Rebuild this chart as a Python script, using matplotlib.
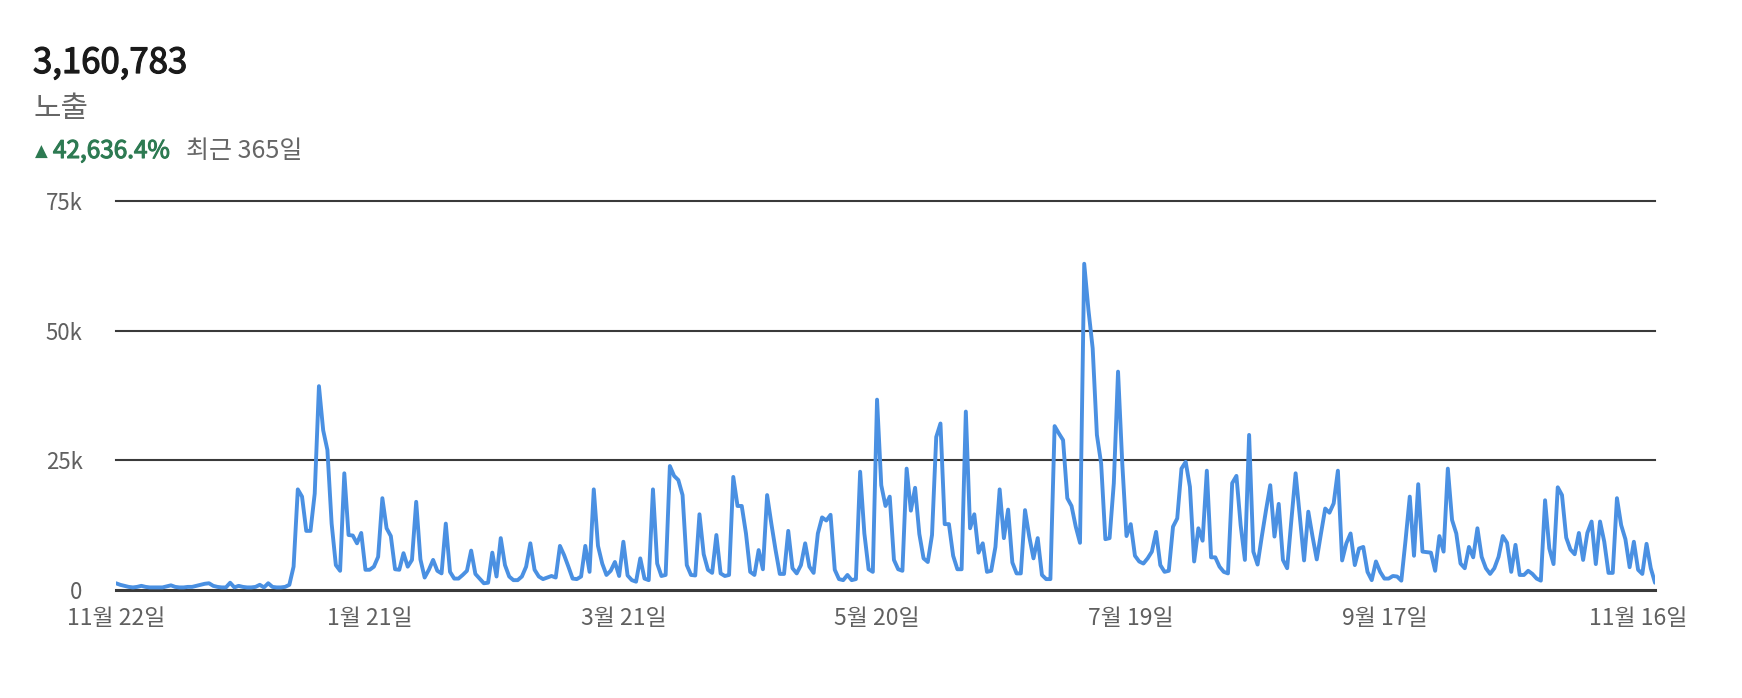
import matplotlib
matplotlib.use("Agg")
import matplotlib.pyplot as plt
import matplotlib.patheffects as pe
import numpy as np

plt.rcParams['font.family'] = ['Noto Sans CJK KR', 'DejaVu Sans']

total_label = "3,160,783"
metric_label = "노출"
change_label = "42,636.4%"
period_label = "최근 365일"

# daily impressions (thousands), 365 days starting 11월 22일
impressions_k = [
    1.3, 1.0, 0.8, 0.6, 0.5, 0.6, 0.8, 0.6, 0.5, 0.5,
    0.5, 0.5, 0.7, 0.9, 0.6, 0.5, 0.5, 0.6, 0.6, 0.8,
    1.0, 1.2, 1.3, 0.8, 0.6, 0.5, 0.5, 1.4, 0.5, 0.8,
    0.6, 0.5, 0.5, 0.6, 1.0, 0.5, 1.3, 0.6, 0.5, 0.5,
    0.6, 1.0,
    4.5, 19.4, 18.0, 11.4, 11.4, 18.6, 39.3, 30.8, 27.0, 12.8,
    4.8, 3.7, 22.5, 10.6, 10.5, 9.0, 11.0, 3.9,
    3.9, 4.5, 6.4, 17.7, 11.9, 10.4, 4.0, 3.9, 7.1, 4.5,
    5.8, 17.0, 5.9, 2.4, 3.9, 5.8, 3.7, 3.2, 12.8, 3.5,
    2.2, 2.2, 2.9, 3.7, 7.6, 3.1, 2.2, 1.3, 1.4, 7.2,
    2.6, 10.0, 4.8, 2.6, 1.9, 1.9, 2.6, 4.5, 9.0, 3.9,
    2.6, 2.1, 2.4, 2.7, 2.4, 8.5, 6.7, 4.5, 2.2, 2.1,
    2.6, 8.5, 3.5, 19.4, 8.5, 5.1, 2.9, 3.7, 5.4, 2.7,
    9.3, 2.8, 1.9, 1.6, 6.1, 2.2, 1.9, 19.4, 5.1, 2.7,
    2.9, 23.9, 22.0, 21.2, 18.3, 4.8, 2.9, 2.8, 14.6, 6.9,
    3.9, 3.3, 10.6, 3.2, 2.7, 2.9, 21.8, 16.2, 16.2, 10.9,
    3.5, 2.9, 7.7, 4.0, 18.3, 12.8, 7.7, 3.1, 3.1, 11.4,
    4.2, 3.2, 4.8, 9.0, 4.5, 3.3, 10.9, 14.0, 13.4, 14.5,
    3.9, 2.1, 1.9, 2.9, 1.9, 2.1, 22.8, 10.9, 4.0, 3.5,
    36.7, 20.2, 16.2, 18.0, 5.8, 4.0, 3.7, 23.4, 15.3, 19.7,
    10.8, 6.1, 5.4, 10.6, 29.5, 32.1, 12.7, 12.7, 6.6, 4.0,
    4.0, 34.4, 11.9, 14.6, 7.2, 9.0, 3.5, 3.7, 8.3, 19.4,
    10.0, 15.5, 5.3, 3.2, 3.2, 15.4, 10.3, 6.1, 10.0, 2.9,
    2.1, 2.1, 31.6, 30.2, 28.9, 17.7, 16.2, 12.2, 9.1, 62.9,
    54.0, 46.6, 29.9, 24.4, 9.8, 10.0, 20.6, 42.1, 24.4, 10.4,
    12.7, 6.6, 5.5, 5.1, 6.1, 7.4, 11.2, 4.8, 3.5, 3.7,
    12.2, 13.8, 23.4, 24.7, 19.9, 5.5, 11.9, 9.5, 23.0, 6.3,
    6.3, 4.5, 3.5, 3.2, 20.6, 22.0, 12.5, 5.8, 29.9, 7.4,
    4.9, 10.3, 15.4, 20.2, 10.3, 16.6, 5.8, 4.2, 13.5, 22.5,
    14.1, 5.7, 15.1, 10.3, 5.9, 10.9, 15.7, 14.9, 16.7, 23.0,
    5.7, 9.0, 10.9, 4.8, 8.0, 8.3, 3.5, 1.9, 5.5, 3.5,
    2.2, 2.2, 2.7, 2.6, 1.8, 9.6, 18.0, 6.6, 20.4, 7.4,
    7.3, 7.2, 3.7, 10.4, 7.4, 23.4, 13.5, 10.9, 5.1, 4.2,
    8.3, 6.3, 11.9, 6.4, 4.2, 3.1, 4.2, 6.4, 10.4, 9.1,
    3.5, 8.7, 2.9, 2.9, 3.7, 3.1, 2.2, 1.8, 17.3, 8.0,
    5.0, 19.8, 18.3, 10.1, 7.8, 6.9, 11.0, 5.8, 11.0, 13.2,
    5.0, 13.2, 9.3, 3.3, 3.3, 17.7, 12.5, 9.8, 4.4, 9.3,
    3.9, 3.1, 8.9, 4.2, 1.4,
]

y_ticks = [0, 25000, 50000, 75000]
y_tick_labels = ["0", "25k", "50k", "75k"]
x_tick_days = [0, 60, 120, 180, 240, 300, 360]
x_tick_labels = ["11월 22일", "1월 21일", "3월 21일", "5월 20일", "7월 19일", "9월 17일", "11월 16일"]

W, H = 1742, 698
fig = plt.figure(figsize=(W / 100, H / 100), dpi=100)
fig.patch.set_facecolor("white")

ax = fig.add_axes([116 / W, 1 - 590 / H, (1655 - 116) / W, (590 - 201) / H])
values = np.array(impressions_k) * 1000
days = np.arange(len(values))

for yv in y_ticks:
    ax.axhline(yv, color="#3a3a3a", lw=1.5 if yv else 2.2, zorder=1, clip_on=False)

ax.plot(days, values, color="#4a90e2", lw=2.8, zorder=3,
        solid_joinstyle="round", solid_capstyle="round")

ax.set_xlim(0, len(values) - 1)
ax.set_ylim(0, 75000)
for s in ax.spines.values():
    s.set_visible(False)
ax.set_yticks(y_ticks)
ax.set_yticklabels(y_tick_labels, fontsize=16, color="#606060")
ax.set_xticks(x_tick_days)
ax.set_xticklabels(x_tick_labels, fontsize=16.5, color="#606060")
ax.tick_params(axis="y", length=0, pad=24)
ax.tick_params(axis="x", length=0, pad=12)

def fx(px):
    return px / W

def fy(py):
    return 1 - py / H

fig.text(fx(33), fy(73), total_label, fontsize=25, color="#1a1a1a", va="baseline",
         path_effects=[pe.withStroke(linewidth=0.9, foreground="#1a1a1a")])
fig.text(fx(33), fy(117), metric_label, fontsize=21.5, color="#666666", va="baseline")
fig.text(fx(35), fy(157), "▲", fontsize=12, color="#2d7a52", va="baseline", family=["DejaVu Sans"])
fig.text(fx(53), fy(158), change_label, fontsize=17.5, color="#2d7a52", va="baseline",
         path_effects=[pe.withStroke(linewidth=0.8, foreground="#2d7a52")])
fig.text(fx(186), fy(158), period_label, fontsize=18, color="#666666", va="baseline")

fig.savefig("out.png", dpi=100, facecolor="white")
